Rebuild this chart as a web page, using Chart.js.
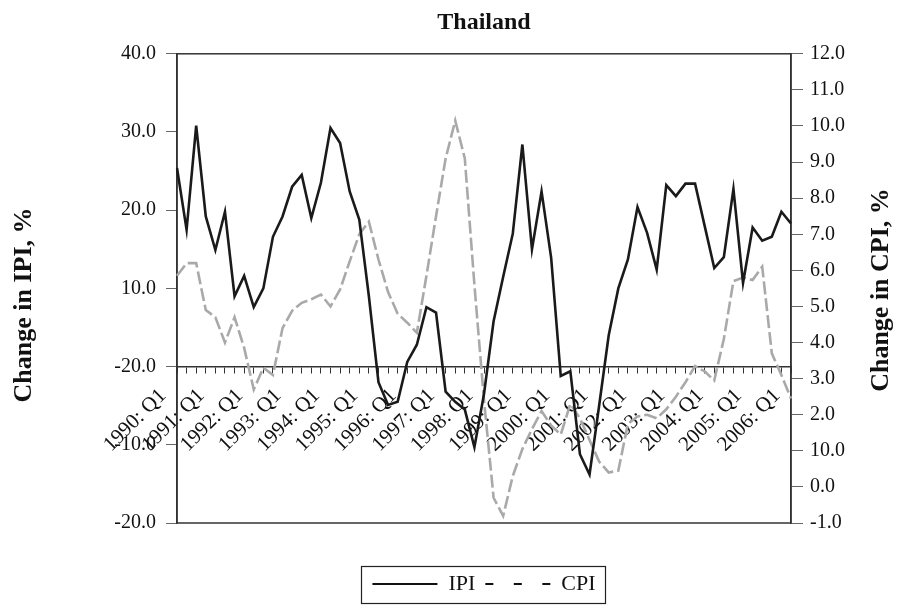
<!DOCTYPE html>
<html>
<head>
<meta charset="utf-8">
<script src="https://cdn.jsdelivr.net/npm/chart.js@4.4.0/dist/chart.umd.min.js"></script>
<style>
  html, body { margin: 0; padding: 0; background: #fff; }
  #wrap { width: 900px; height: 605px; }
</style>
</head>
<body>
<div id="wrap"><canvas id="chart"></canvas></div>
<script>
// Quarters 1990: Q1 .. 2006: Q1
const years = [1990, 1991, 1992, 1993, 1994, 1995, 1996, 1997, 1998, 1999, 2000, 2001, 2002, 2003, 2004, 2005, 2006];
const quarters = ['Q1', 'Q2', 'Q3', 'Q4'];
const categories = [];
years.forEach(y => quarters.forEach(q => {
  if (y < 2006 || q === 'Q1') categories.push(y + ': ' + q);
}));

// Change in IPI, % (left axis)
const ipi = [
  25.4, 17.5, 30.8, 19.2, 14.9, 19.8, 9.0, 11.6, 7.6, 10.0, 16.6, 19.2,
  23.0, 24.5, 19.0, 23.5, 30.5, 28.6, 22.4, 18.8,
  9.0, -2.0, -4.9, -4.5, 0.6, 2.8, 7.6, 6.9, -3.2, -4.5, -5.5, -10.3,
  -3.5, 5.8, 11.5, 17.0, 28.4, 15.0, 22.4, 13.9,
  -1.2, -0.6, -11.2, -13.8, -5.0, 4.0, 10.0, 13.7, 20.4, 17.1, 12.4, 23.2,
  21.8, 23.4, 23.4, 18.0, 12.6, 14.0, 22.7, 10.7, 17.8, 16.1, 16.6, 19.8, 18.3
];

// Change in CPI, % (right axis)
const cpi = [
  5.85, 6.2, 6.2, 4.9, 4.7, 4.0, 4.7, 3.85, 2.7, 3.3, 3.1, 4.4,
  4.88, 5.1, 5.2, 5.33, 5.0, 5.47, 6.25, 7.0,
  7.35, 6.3, 5.4, 4.8, 4.55, 4.27, 5.85, 7.5, 9.1, 10.15, 9.1, 5.6,
  2.4, -0.3, -0.8, 0.3, 1.05, 1.6, 2.1, 1.7,
  1.45, 2.3, 1.9, 1.3, 0.7, 0.4, 0.45, 1.75, 1.95, 2.0, 1.9, 2.15,
  2.5, 2.9, 3.35, 3.2, 2.95, 4.1, 5.7, 5.8, 5.73, 6.1, 3.7, 3.1, 2.45
];

// tick labels as printed on the original
const leftTickValues = [40, 30, 20, 10, 0, -10, -20];
const leftTickText = ['40.0', '30.0', '20.0', '10.0', '-20.0', '-10.0', '-20.0'];
const rightTickValues = [12, 11, 10, 9, 8, 7, 6, 5, 4, 3, 2, 1, 0, -1];
const rightTickText = ['12.0', '11.0', '10.0', '9.0', '8.0', '7.0', '6.0', '5.0', '4.0', '3.0', '2.0', '10.0', '0.0', '-1.0'];

const seriesNames = ['IPI', 'CPI'];
const legendColors = ['#111111', '#111111'];
const legendDash = [[], [8, 20.5]];

const FONT = "'Liberation Serif', 'Times New Roman', serif";

const framePlugin = {
  id: 'frame',
  beforeDatasetsDraw(chart) {
    const { ctx, chartArea: a } = chart;
    ctx.save();
    ctx.strokeStyle = '#333';
    ctx.lineWidth = 1.5;
    ctx.strokeRect(a.left, a.top, a.right - a.left, a.bottom - a.top);
    ctx.restore();
  },
  afterDraw(chart) {
    const ctx = chart.ctx;
    // side titles, both reading bottom to top
    [['Change in IPI, %', 24, 305], ['Change in CPI, %', 881, 290]].forEach(([txt, x, y]) => {
      ctx.save();
      ctx.fillStyle = '#111';
      ctx.font = 'bold 26px ' + FONT;
      ctx.textAlign = 'center';
      ctx.textBaseline = 'middle';
      ctx.translate(x, y);
      ctx.rotate(-Math.PI / 2);
      ctx.fillText(txt, 0, 0);
      ctx.restore();
    });

    // box round the legend
    const hb = chart.legend.legendHitBoxes;
    if (hb && hb.length) {
      const l = Math.min(...hb.map(b => b.left)) - 11;
      const r = Math.max(...hb.map(b => b.left + b.width)) + 10;
      const t = hb[0].top - 7;
      const btm = hb[0].top + hb[0].height + 8;
      ctx.save();
      ctx.strokeStyle = '#222';
      ctx.lineWidth = 1.2;
      ctx.strokeRect(Math.round(l) + 0.5, Math.round(t) + 0.5, Math.round(r - l), Math.round(btm - t));
      ctx.restore();
    }
  }
};

const ctx = document.getElementById('chart').getContext('2d');
new Chart(ctx, {
  type: 'line',
  data: {
    labels: categories,
    datasets: [
      {
        label: seriesNames[0],
        data: ipi,
        yAxisID: 'y',
        borderColor: '#1a1a1a',
        borderWidth: 2.6,
        pointRadius: 0,
        tension: 0,
        fill: false,
      },
      {
        label: seriesNames[1],
        data: cpi,
        yAxisID: 'y2',
        borderColor: '#a9a9a9',
        borderWidth: 2.6,
        borderDash: [13, 4],
        pointRadius: 0,
        tension: 0,
        fill: false,
      },
    ],
  },
  options: {
    responsive: true,
    maintainAspectRatio: false,
    animation: false,
    layout: { padding: 0 },
    scales: {
      x: {
        type: 'category',
        position: { y: 0 },
        offset: false,
        grid: { display: true, drawOnChartArea: false, drawTicks: true, tickLength: 6, color: '#333', lineWidth: 1 },
        border: { display: true, color: '#333', width: 1.5 },
        ticks: {
          autoSkip: false,
          minRotation: 45,
          maxRotation: 45,
          padding: 11,
          labelOffset: -14,
          color: '#111',
          font: { family: FONT, size: 21 },
          callback: function (value) {
            const lab = this.getLabelForValue(value);
            return lab.endsWith('Q1') ? lab : '';
          },
        },
      },
      y: {
        position: 'left',
        min: -20,
        max: 40,
        afterFit: s => { s.width = 177; },
        grid: { drawOnChartArea: false, tickLength: 11, color: '#666' },
        border: { display: true, color: '#333', width: 1.5 },
        ticks: {
          stepSize: 10,
          padding: 10,
          color: '#111',
          font: { family: FONT, size: 20 },
          callback: v => leftTickText[leftTickValues.indexOf(v)],
        },
      },
      y2: {
        position: 'right',
        min: -1,
        max: 12,
        afterFit: s => { s.width = 109; },
        grid: { drawOnChartArea: false, tickLength: 12, color: '#666' },
        border: { display: true, color: '#333', width: 1.5 },
        ticks: {
          stepSize: 1,
          padding: 7,
          color: '#111',
          font: { family: FONT, size: 20 },
          callback: v => rightTickText[rightTickValues.indexOf(v)],
        },
      },
    },
    plugins: {
      title: {
        display: true,
        text: 'Thailand',
        fullSize: false,
        color: '#111',
        font: { family: FONT, size: 24, weight: 'bold' },
        padding: { top: 8, bottom: 17 },
      },
      legend: {
        display: true,
        position: 'bottom',
        fullSize: false,
        title: { display: true, text: ' ', font: { size: 10 }, padding: { top: 28, bottom: 0 } },
        labels: {
          usePointStyle: true,
          pointStyle: 'line',
          pointStyleWidth: 65,
          padding: 10,
          color: '#111',
          font: { family: FONT, size: 22 },
          generateLabels: chart => {
            const items = Chart.defaults.plugins.legend.labels.generateLabels(chart);
            items.forEach((it, i) => {
              it.strokeStyle = legendColors[i];
              it.lineDash = legendDash[i];
              it.lineDashOffset = 0;
              it.lineWidth = 2.2;
              it.pointStyle = 'line';
            });
            return items;
          },
        },
      },
      tooltip: { enabled: false },
    },
  },
  plugins: [framePlugin],
});
</script>
</body>
</html>
